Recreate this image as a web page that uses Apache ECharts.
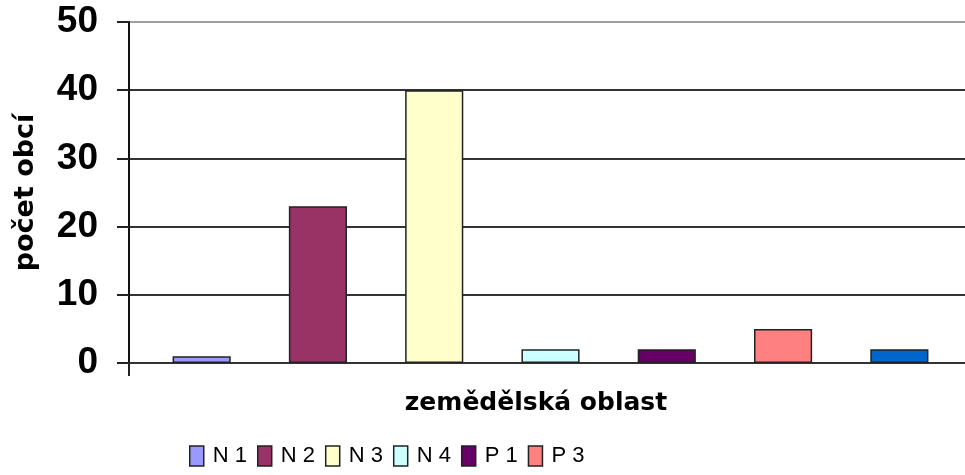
<!DOCTYPE html>
<html>
<head>
<meta charset="utf-8">
<script src="https://cdn.jsdelivr.net/npm/echarts@6/dist/echarts.min.js"></script>
<style>
    html, body {margin: 0; padding: 0; background: #fff;}
    #chart {width: 965px; height: 475px;}
</style>
</head>
<body>
<div id="chart"></div>
<script>
/*数据*/
let categories = ['N 1', 'N 2', 'N 3', 'N 4', 'P 1', 'P 3', 'P 4'];
let counts = [1, 23, 40, 2, 2, 5, 2];
let legendNames = ['N 1', 'N 2', 'N 3', 'N 4', 'P 1', 'P 3'];
let yMin = 0, yMax = 50, yStep = 10;

let colors = ['#9999FF', '#993366', '#FFFFCC', '#CCFFFF', '#660066', '#FF8080', '#0066CC'];

let myChart = echarts.init(document.getElementById('chart'));

/*每个类别一个系列，堆叠后居中*/
let series = categories.map((name, i) => ({
    name: name,
    type: 'bar',
    xAxisIndex: 1,
    yAxisIndex: 1,
    stack: 'total',
    barWidth: '50%',
    itemStyle: {
        color: colors[i],
        borderColor: '#222',
        borderWidth: 1.5
    },
    data: counts.map((v, j) => j === i ? v : '-')
}));

let option = {
    backgroundColor: '#fff',
    animation: false,
    legend: {
        data: legendNames,
        left: 189,
        top: 445,
        padding: 0,
        itemWidth: 14,
        itemHeight: 20,
        itemGap: 10,
        icon: 'rect',
        itemStyle: {borderColor: '#222', borderWidth: 1.5},
        textStyle: {
            fontFamily: '"Liberation Sans", Arial',
            fontSize: 22,
            color: '#000',
            padding: [0, 0, 0, 4]
        }
    },
    grid: [
        {left: 129, right: -40, top: 22, height: 341},
        {left: 143.5, width: 814, top: 22, height: 341}
    ],
    xAxis: [
        {
            type: 'value',
            gridIndex: 0,
            min: 0,
            max: 1,
            interval: 1,
            axisLine: {lineStyle: {color: '#333', width: 2}},
            axisTick: {length: 13, customValues: [0], lineStyle: {color: '#222', width: 2}},
            axisLabel: {show: false},
            splitLine: {show: false}
        },
        {
            type: 'category',
            gridIndex: 1,
            data: categories,
            axisLine: {show: false},
            axisTick: {show: false},
            axisLabel: {show: false},
            name: 'zemědělská oblast',
            nameLocation: 'middle',
            nameGap: 28,
            nameTextStyle: {
                fontFamily: '"DejaVu Sans"',
                fontWeight: 'bold',
                fontSize: 25,
                color: '#000',
                padding: [0, 29, 0, 0]
            }
        }
    ],
    yAxis: [
        {
            type: 'value',
            gridIndex: 0,
            min: yMin,
            max: yMax,
            interval: yStep,
            name: 'počet obcí',
            nameLocation: 'middle',
            nameRotate: 90,
            nameGap: 90,
            nameTextStyle: {
                fontFamily: '"DejaVu Sans"',
                fontWeight: 'bold',
                fontSize: 27,
                color: '#000'
            },
            axisLine: {show: true, lineStyle: {color: '#111', width: 2}},
            axisTick: {show: true, length: 12, lineStyle: {color: '#222', width: 2}},
            axisLabel: {
                margin: 31,
                fontFamily: '"Liberation Sans", Arial',
                fontWeight: 'bold',
                fontSize: 37,
                color: '#000'
            },
            splitLine: {
                show: true,
                lineStyle: {color: ['#333', '#333', '#333', '#333', '#333', '#a0a0a0'], width: 2}
            }
        },
        {
            type: 'value',
            gridIndex: 1,
            min: yMin,
            max: yMax,
            show: false
        }
    ],
    series: series
};

myChart.setOption(option);
</script>
</body>
</html>
